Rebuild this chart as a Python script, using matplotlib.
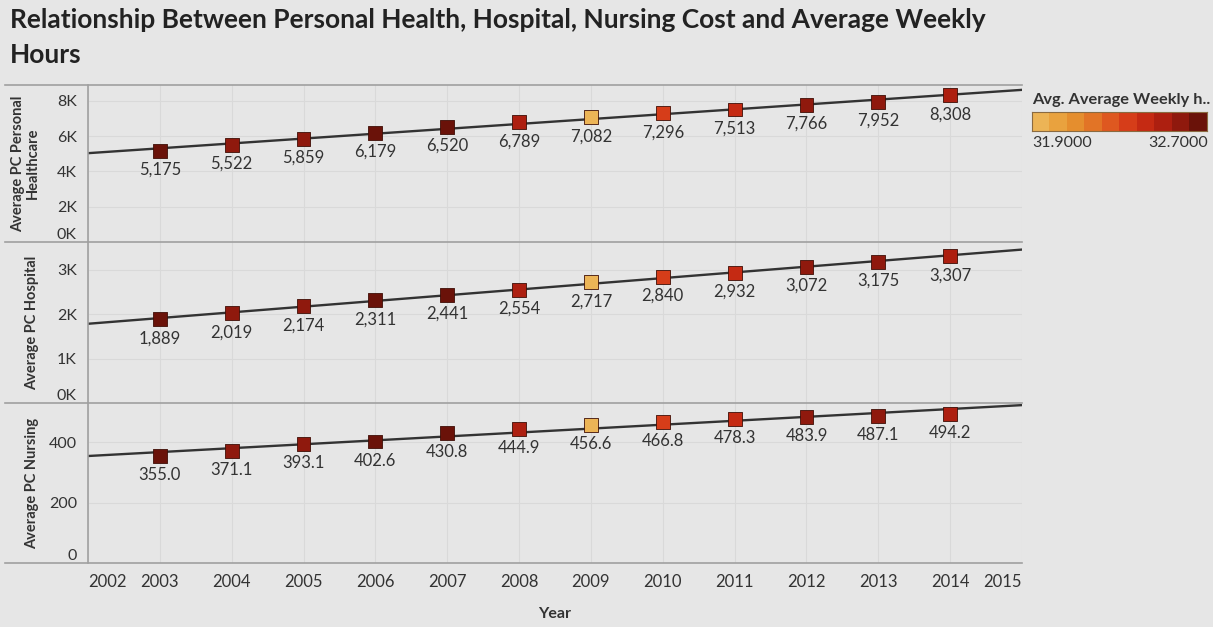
import numpy as np
import matplotlib
matplotlib.use("Agg")
import matplotlib.pyplot as plt
from matplotlib.colors import ListedColormap, BoundaryNorm
from matplotlib.lines import Line2D

plt.rcParams['font.family'] = ['Lato', 'DejaVu Sans']

years = [2003, 2004, 2005, 2006, 2007, 2008, 2009, 2010, 2011, 2012, 2013, 2014]
personal = [5175, 5522, 5859, 6179, 6520, 6789, 7082, 7296, 7513, 7766, 7952, 8308]
hospital = [1889, 2019, 2174, 2311, 2441, 2554, 2717, 2840, 2932, 3072, 3175, 3307]
nursing = [355.0, 371.1, 393.1, 402.6, 430.8, 444.9, 456.6, 466.8, 478.3, 483.9, 487.1, 494.2]
weekly_hours = [32.66, 32.62, 32.55, 32.64, 32.68, 32.48, 31.92, 32.30, 32.44, 32.58, 32.54, 32.46]

xticks = list(range(2002, 2016))
panel_names = ["Average PC Personal\nHealthcare", "Average PC Hospital", "Average PC Nursing"]
panel_ticks = [[0, 2000, 4000, 6000, 8000], [0, 1000, 2000, 3000], [0, 200, 400]]
panel_ticklabels = [["0K", "2K", "4K", "6K", "8K"], ["0K", "1K", "2K", "3K"], ["0", "200", "400"]]
panel_ylim = [(0, 8900), (0, 3625), (0, 530)]
legend_title = "Avg. Average Weekly h.."
hours_min, hours_max = 31.9, 32.7

cmap_colors = ["#ecb456", "#e9a23e", "#e58e2e", "#e27426", "#de5820",
               "#d63d19", "#c52a13", "#ad1f10", "#8f190d", "#6a1209"]
cmap = ListedColormap(cmap_colors)
norm = BoundaryNorm(np.linspace(hours_min, hours_max, len(cmap_colors) + 1), cmap.N)

BG = "#e6e6e6"
TXT = "#333333"
W, H = 1213, 627
fig = plt.figure(figsize=(W / 100, H / 100), dpi=100, facecolor=BG)

def px(x0, y0, x1, y1):
    return [x0 / W, 1 - y1 / H, (x1 - x0) / W, (y1 - y0) / H]

bounds = [(85, 242), (242, 403), (403, 563)]
series = [personal, hospital, nursing]
fmts = ["{:,.0f}", "{:,.0f}", "{:.1f}"]
for i, ((t, b), vals) in enumerate(zip(bounds, series)):
    ax = fig.add_axes(px(88, t, 1022, b))
    ax.set_facecolor(BG)
    ax.set_xlim(2002, 2015)
    ax.set_ylim(*panel_ylim[i])
    for s in ["top", "right", "bottom"]:
        ax.spines[s].set_visible(False)
    ax.spines["left"].set_color("#a0a0a0")
    ax.spines["left"].set_linewidth(1.2)
    ax.set_xticks(xticks)
    ax.grid(True, color="#d9d9d9", linewidth=0.8)
    ax.set_axisbelow(True)
    ax.tick_params(length=0, labelsize=11.5, colors=TXT, pad=8)
    ax.set_yticks(panel_ticks[i])
    ax.set_yticklabels(panel_ticklabels[i])
    ax.get_yticklabels()[0].set_va("bottom")
    ax.set_ylabel(panel_names[i], fontsize=10.5, fontweight="bold", color=TXT,
                  linespacing=1.0)
    ax.yaxis.set_label_coords(-0.052, 0.5)
    coef = np.polyfit(years, vals, 1)
    xs = np.array([2002, 2015])
    ax.plot(xs, np.polyval(coef, xs), color="#333333", linewidth=1.7, zorder=2)
    ax.scatter(years, vals, c=weekly_hours, cmap=cmap, norm=norm, marker="s", s=100,
               edgecolors="#3e0e06", linewidths=0.6, zorder=3)
    for x, v in zip(years, vals):
        ax.annotate(fmts[i].format(v), (x, v), xytext=(0, -8), textcoords="offset points",
                    ha="center", va="top", fontsize=12, color=TXT)
    if i < 2:
        ax.tick_params(labelbottom=False)
    else:
        ax.set_xticklabels([str(y) for y in xticks])
        ax.tick_params(axis="x", pad=8, labelsize=12)
        lbls = ax.get_xticklabels()
        lbls[0].set_ha("left")
        lbls[-1].set_ha("right")
        ax.set_xlabel("Year", fontsize=11.5, fontweight="bold", color=TXT, labelpad=12)

for y in [85, 242, 403, 563]:
    fig.add_artist(Line2D([5 / W, 1022 / W], [1 - y / H, 1 - y / H], color="#a0a0a0", linewidth=1.2))

fig.text(10 / W, 1 - 20 / H, "Relationship Between Personal Health, Hospital, Nursing Cost and Average Weekly",
         fontsize=19, fontweight="bold", color="#222222", va="center", ha="left")
fig.text(10 / W, 1 - 55 / H, "Hours", fontsize=19, fontweight="bold", color="#222222",
         va="center", ha="left")

fig.text(1032 / W, 1 - 100 / H, legend_title, fontsize=11.8, fontweight="bold", color=TXT,
         va="center", ha="left")
cax = fig.add_axes(px(1032, 112, 1207, 131))
grad = np.linspace(hours_min, hours_max, len(cmap_colors)).reshape(1, -1)
cax.imshow(grad, cmap=cmap, norm=norm, aspect="auto", extent=(0, len(cmap_colors), 0, 1))
cax.set_xticks([]); cax.set_yticks([])
for s in cax.spines.values():
    s.set_color("#8a6a40"); s.set_linewidth(0.8)
fig.text(1032 / W, 1 - 143 / H, f"{hours_min:.4f}", fontsize=11.5, color=TXT, va="center", ha="left")
fig.text(1208 / W, 1 - 143 / H, f"{hours_max:.4f}", fontsize=11.5, color=TXT, va="center", ha="right")

fig.savefig("out.png", dpi=100, facecolor=BG)
